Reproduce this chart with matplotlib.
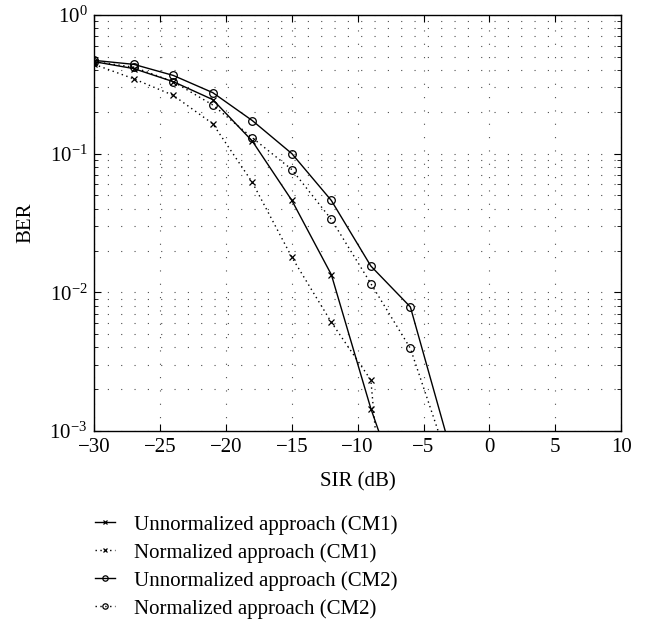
import matplotlib
matplotlib.use("Agg")
import matplotlib.pyplot as plt
from matplotlib.ticker import LogLocator, NullFormatter

plt.rcParams['font.family'] = ['Liberation Serif', 'DejaVu Serif']
plt.rcParams['mathtext.fontset'] = 'stix'

sir = [-30, -27, -24, -21, -18, -15, -12, -9, -6, -3]

unnorm_cm1 = [0.46, 0.41, 0.33, 0.245, 0.123, 0.046, 0.0134, 0.00145, 0.00022, None]
norm_cm1 = [0.44, 0.346, 0.263, 0.164, 0.062, 0.0179, 0.00608, 0.00233, 0.0000015, None]
unnorm_cm2 = [0.47, 0.44, 0.366, 0.275, 0.173, 0.1, 0.0459, 0.01546, 0.00784, 0.00076]
norm_cm2 = [0.46, 0.42, 0.33, 0.224, 0.13, 0.0767, 0.0335, 0.01155, 0.00394, 0.00056]

labels = ['Unnormalized approach (CM1)', 'Normalized approach (CM1)',
          'Unnormalized approach (CM2)', 'Normalized approach (CM2)']

def clean(x, y):
    pts = [(a, b) for a, b in zip(x, y) if b is not None]
    return [p[0] for p in pts], [p[1] for p in pts]

fig = plt.figure(figsize=(6.52, 6.21), dpi=100)
ax = fig.add_axes([0.1446, 0.306, 0.808, 0.670])

dot = (0, (1, 2.5))
series = [(unnorm_cm1, '-', 'x'), (norm_cm1, dot, 'x'),
          (unnorm_cm2, '-', 'o'), (norm_cm2, dot, 'o')]
handles = []
for (vals, ls, mk), lab in zip(series, labels):
    x, y = clean(sir, vals)
    h, = ax.plot(x, y, color='black', linestyle=ls, linewidth=1.0,
                 marker=mk, markersize=5.5 if mk == 'o' else 5,
                 markerfacecolor='none', markeredgewidth=0.9, label=lab)
    handles.append(h)

fs = 15
ax.set_yscale('log')
ax.set_xlim(-30, 10)
ax.set_ylim(1e-3, 1)
ax.set_xticks(range(-30, 11, 5))
ax.set_xticklabels(['\u2212' + str(-v) if v < 0 else str(v) for v in range(-30, 11, 5)])
ax.yaxis.set_major_locator(LogLocator(base=10, numticks=10))
ax.yaxis.set_minor_locator(LogLocator(base=10, subs=range(2, 10), numticks=20))
ax.yaxis.set_minor_formatter(NullFormatter())

grid_ls = (0, (1, 11))
ax.grid(True, which='major', axis='both', color='0.3', linestyle=grid_ls, linewidth=0.8)
ax.grid(True, which='minor', axis='y', color='0.3', linestyle=grid_ls, linewidth=0.8)

ax.tick_params(which='both', direction='in', top=True, right=True, labelsize=fs, pad=5)
ax.tick_params(which='major', length=5)
ax.tick_params(which='minor', length=3)
for s in ax.spines.values():
    s.set_linewidth(1.0)

ax.set_xlabel('SIR (dB)', fontsize=fs, labelpad=11)
ax.set_ylabel('BER', fontsize=fs, labelpad=10)

fig.legend(handles=handles, loc='upper left', bbox_to_anchor=(0.145, 0.171),
           frameon=False, fontsize=fs, handlelength=1.0, handletextpad=0.9,
           labelspacing=0.4, borderaxespad=0, borderpad=0, markerscale=0.7)

fig.savefig('out.png', dpi=100)
